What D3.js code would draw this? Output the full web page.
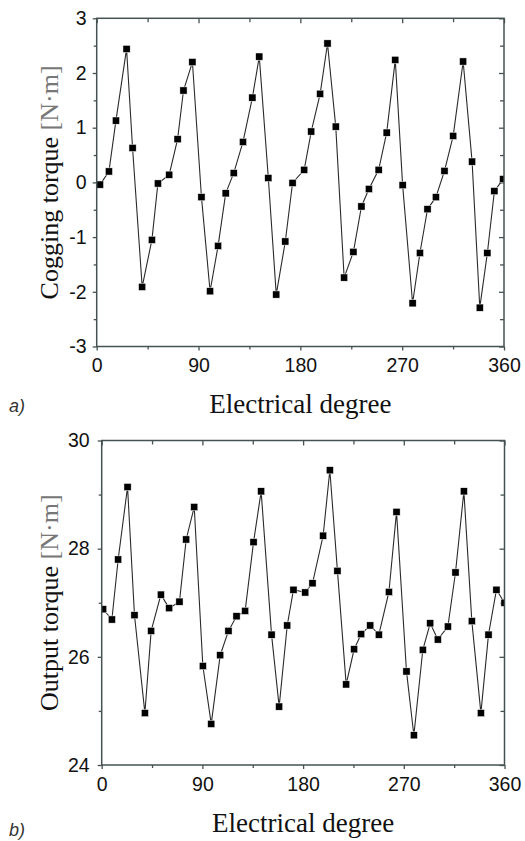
<!DOCTYPE html>
<html>
<head>
<meta charset="utf-8">
<script src="https://cdn.jsdelivr.net/npm/d3@7"></script>
<style>
body { margin: 0; background: #fff; }
svg { display: block; }
</style>
</head>
<body>
<script>
// a) cogging torque
var cogAngle = [2.9, 10.8, 17.0, 26.4, 31.7, 40.2, 48.8, 54.1, 64.1, 71.5, 76.7, 84.6, 92.6, 100.2, 107.3, 114.0, 121.1,
	129.3, 137.6, 143.7, 151.7, 158.7, 166.7, 173.1, 183.4, 189.6, 197.5, 204.0, 211.3, 218.7, 226.9, 234.0, 240.6,
	249.2, 256.3, 263.9, 270.4, 279.2, 285.7, 292.4, 299.8, 307.4, 315.1, 323.9, 331.8, 338.6, 345.3, 351.5, 359.2];
var cogTorque = [-0.04, 0.20, 1.13, 2.44, 0.63, -1.91, -1.05, -0.02, 0.14, 0.79, 1.68, 2.20, -0.27, -1.99, -1.16, -0.20, 0.17,
	0.74, 1.55, 2.30, 0.08, -2.05, -1.08, -0.01, 0.23, 0.93, 1.62, 2.54, 1.02, -1.74, -1.27, -0.44, -0.12,
	0.23, 0.91, 2.24, -0.05, -2.21, -1.29, -0.49, -0.27, 0.21, 0.85, 2.21, 0.38, -2.29, -1.29, -0.16, 0.06];

// b) output torque
var outAngle = [1.3, 9.1, 14.7, 23.1, 29.3, 38.6, 44.2, 52.9, 60.3, 69.5, 75.5, 82.7, 90.4, 97.9, 105.9, 113.3, 120.5,
	128.2, 135.7, 142.5, 151.8, 158.6, 165.8, 171.4, 181.9, 188.4, 197.9, 203.9, 210.7, 218.5, 225.6, 231.9, 240.0,
	247.7, 256.7, 263.5, 272.4, 279.0, 287.0, 293.6, 300.4, 309.4, 316.2, 323.7, 330.8, 338.9, 345.7, 352.8, 360];
var outTorque = [26.88, 26.69, 27.80, 29.14, 26.77, 24.96, 26.48, 27.15, 26.90, 27.02, 28.17, 28.77, 25.83, 24.76, 26.03, 26.48, 26.75,
	26.85, 28.12, 29.06, 26.41, 25.08, 26.58, 27.24, 27.19, 27.36, 28.24, 29.45, 27.59, 25.49, 26.14, 26.42, 26.58,
	26.41, 27.20, 28.68, 25.73, 24.55, 26.13, 26.62, 26.32, 26.56, 27.56, 29.06, 26.66, 24.96, 26.41, 27.24, 27.00];

// ticks
var xTicks = [0, 90, 180, 270, 360];
var xMinor = [45, 135, 225, 315];
var cogTicks = [-3, -2, -1, 0, 1, 2, 3];
var cogMinor = [-2.5, -1.5, -0.5, 0.5, 1.5, 2.5];
var outTicks = [24, 26, 28, 30];
var outMinor = [25, 27, 29];

var frameColor = '#465252',
		numFont = '"Liberation Sans", Arial, sans-serif',
		serifFont = '"Liberation Serif", "Times New Roman", serif';

// plain hyphen for negatives, like the original
var plainNum = function(d) { return String(d); };

var svg = d3.select('body')
	.append('svg')
	.attr('width', 525)
	.attr('height', 841);

function drawPanel(p) {
	var x = d3.scaleLinear().domain([0, 360]).range([p.left, p.right]),
			y = d3.scaleLinear().domain(p.yDomain).range([p.bottom, p.top]),
			g = svg.append('g');

	// clip so the edge markers get cut by the frame
	svg.append('clipPath').attr('id', 'clip-' + p.id)
		.append('rect')
		.attr('x', p.left).attr('y', p.top)
		.attr('width', p.right - p.left).attr('height', p.bottom - p.top);

	function tickStyle(sel) {
		sel.select('.domain').remove();
		sel.selectAll('line').attr('stroke', frameColor).attr('stroke-width', 1.3);
		sel.selectAll('text')
			.attr('fill', '#111')
			.style('font-family', numFont)
			.style('font-size', '19.5px');
	}

	// bottom, outer ticks with labels
	g.append('g').attr('transform', 'translate(0,' + p.bottom + ')')
		.call(d3.axisBottom(x).tickValues(xTicks).tickSize(4).tickPadding(8).tickFormat(plainNum))
		.call(tickStyle);
	g.append('g').attr('transform', 'translate(0,' + p.bottom + ')')
		.call(d3.axisBottom(x).tickValues(xMinor).tickSize(3).tickFormat(''))
		.call(tickStyle);
	// left, outer ticks with labels
	g.append('g').attr('transform', 'translate(' + p.left + ',0)')
		.call(d3.axisLeft(y).tickValues(p.yTicks).tickSize(4).tickPadding(p.yPad).tickFormat(plainNum))
		.call(tickStyle);
	g.append('g').attr('transform', 'translate(' + p.left + ',0)')
		.call(d3.axisLeft(y).tickValues(p.yMinor).tickSize(3).tickFormat(''))
		.call(tickStyle);
	// top and right, inner ticks only
	g.append('g').attr('transform', 'translate(0,' + p.top + ')')
		.call(d3.axisBottom(x).tickValues(xTicks).tickSize(5).tickFormat(''))
		.call(tickStyle);
	g.append('g').attr('transform', 'translate(0,' + p.top + ')')
		.call(d3.axisBottom(x).tickValues(xMinor).tickSize(4).tickFormat(''))
		.call(tickStyle);
	g.append('g').attr('transform', 'translate(' + p.right + ',0)')
		.call(d3.axisLeft(y).tickValues(p.yTicks).tickSize(5).tickFormat(''))
		.call(tickStyle);
	g.append('g').attr('transform', 'translate(' + p.right + ',0)')
		.call(d3.axisLeft(y).tickValues(p.yMinor).tickSize(4).tickFormat(''))
		.call(tickStyle);

	var pts = p.angle.map(function(a, i) { return [a, p.values[i]]; });

	var plot = g.append('g').attr('clip-path', 'url(#clip-' + p.id + ')');

	plot.append('path')
		.datum(pts)
		.attr('fill', 'none')
		.attr('stroke', '#2a2a2a')
		.attr('stroke-width', 1.1)
		.attr('d', d3.line().x(function(d) { return x(d[0]); }).y(function(d) { return y(d[1]); }));

	plot.selectAll('rect.mk')
		.data(pts)
		.enter()
		.append('rect')
		.attr('class', 'mk')
		.attr('x', function(d) { return x(d[0]) - 3.6; })
		.attr('y', function(d) { return y(d[1]) - 3.6; })
		.attr('width', 7.2)
		.attr('height', 7.2)
		.attr('fill', '#000')
		.attr('stroke', '#fff')
		.attr('stroke-width', 0.5);

	// frame
	g.append('rect')
		.attr('x', p.left).attr('y', p.top)
		.attr('width', p.right - p.left).attr('height', p.bottom - p.top)
		.attr('fill', 'none')
		.attr('stroke', frameColor)
		.attr('stroke-width', 1.5);

	// y title
	var yt = g.append('text')
		.attr('transform', 'translate(58,' + ((p.top + p.bottom) / 2) + ') rotate(-90)')
		.attr('text-anchor', 'middle')
		.style('font-family', serifFont)
		.style('font-size', '26px');
	yt.append('tspan').attr('fill', '#111').text(p.yTitle + ' ');
	yt.append('tspan').attr('fill', '#777').text('[N\u00b7m]');

	// x title
	g.append('text')
		.attr('x', (p.left + p.right) / 2)
		.attr('y', p.xTitleY)
		.attr('text-anchor', 'middle')
		.attr('fill', '#111')
		.style('font-family', serifFont)
		.style('font-size', '27px')
		.text('Electrical degree');

	// panel tag
	g.append('text')
		.attr('x', 9)
		.attr('y', p.tagY)
		.attr('fill', '#333')
		.style('font-family', numFont)
		.style('font-style', 'italic')
		.style('font-size', '18px')
		.text(p.tag);
}

drawPanel({
	id: 'a', left: 96.7, right: 504, top: 18.3, bottom: 346.5,
	angle: cogAngle, values: cogTorque,
	yDomain: [-3, 3], yTicks: cogTicks, yMinor: cogMinor, yPad: 6,
	yTitle: 'Cogging torque', xTitleY: 413, tag: 'a)', tagY: 412
});

drawPanel({
	id: 'b', left: 101.7, right: 504.5, top: 440.5, bottom: 765,
	angle: outAngle, values: outTorque,
	yDomain: [24, 30], yTicks: outTicks, yMinor: outMinor, yPad: 8,
	yTitle: 'Output torque', xTitleY: 832, tag: 'b)', tagY: 836
});
</script>
</body>
</html>
